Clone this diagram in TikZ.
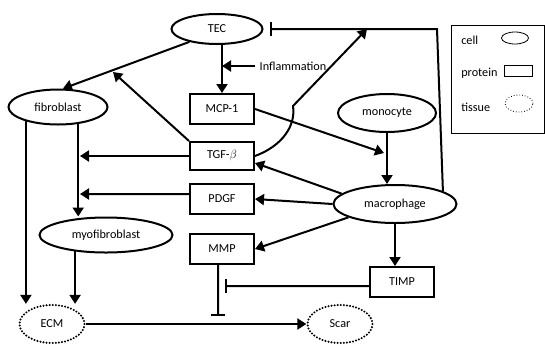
\documentclass[tikz,border=0pt]{standalone}
\usepackage{fontspec}
\setmainfont{Carlito}
\usetikzlibrary{arrows.meta,shapes,positioning}

\begin{document}
\begin{tikzpicture}[x=1bp,y=-1bp,->,>={Triangle[length=9bp,width=11bp]},line width=2bp,
                  font=\fontsize{12.2bp}{14bp}\selectfont,
                  cell node/.style={ellipse,draw,inner sep=0pt},
                  protein node/.style={rectangle,draw,minimum width=64bp,minimum height=30bp,inner sep=0pt},
                  tissue node/.style={ellipse,draw,dash pattern=on 0bp off 3.1bp,line cap=round,line width=2.3bp,
                                      minimum width=65bp,minimum height=38bp,inner sep=0pt},
                  inhib/.style={-{Bar[width=14bp]}},
                  key node/.style={draw,line width=0.8bp,inner sep=0pt}]

    \useasboundingbox (0,0) rectangle (545,345);

    \node[cell node,minimum width=91bp,minimum height=30bp] (1) at (217,29) {TEC};
    \node[cell node,minimum width=99bp,minimum height=35bp] (2) at (58,107) {fibroblast};
    \node[protein node] (3) at (222,109) {MCP-1};
    \node[protein node,minimum height=28bp] (4) at (222,156) {TGF-$\beta$};
    \node[cell node,minimum width=98bp,minimum height=38bp] (5) at (387,113) {monocyte};
    \node[cell node,minimum width=123bp,minimum height=38bp] (6) at (395,204) {macrophage};
    \node[protein node] (7) at (222,199) {PDGF};
    \node[protein node] (8) at (222,249) {MMP};
    \node[protein node] (9) at (402,282) {TIMP};
    \node[cell node,minimum width=133bp,minimum height=35bp] (10) at (106,235) {myofibroblast};
    \node[tissue node] (11) at (52,324) {ECM};
    \node[tissue node] (12) at (340,324) {Scar};
    \node (13) at (293,66) {Inflammation};

    % free ends
    \coordinate (14) at (437,29);
    \coordinate (15) at (113,72);
    \coordinate (16) at (80,156);
    \coordinate (17) at (80,194);
    \coordinate (18) at (384,153);
    \coordinate (19) at (367,29);
    \coordinate (20) at (225,286);
    \coordinate (21) at (218,316);

    \draw (1.205) -- (2.75);
    \draw (1.south -| 3.north) -- (3.north);
    \draw (13.west) -- (13.west -| 3.north);
    \draw (3.east) -- (18);
    \draw (4.north west) -- (15);
    \draw (4.west) -- (16);
    \draw (4.east) .. controls (282,146) and (296,126) .. (293,106) -- (19);
    \draw ([yshift=5bp]7.west) -- (17);
    \draw (5.south) -- (5.south |- 6.north);
    \draw (6.169) -- ([yshift=-7bp]4.east);
    \draw (6.west) -- (7.east);
    \draw (6.196) -- (8.east);
    \draw (6.south) -- (6.south |- 9.north);
    \draw[inhib] ([yshift=-4bp]9.west) -- (20);
    \draw[inhib] ([xshift=-4bp]8.south) -- (21);
    \draw[inhib] (6.15) -- (14) -- ([xshift=6bp]1.east);
    \draw (2.204) -- (2.204 |- 11.north);
    \draw (2.320) -- (2.320 |- 10.north);
    \draw (10.208) -- (10.208 |- 11.north);
    \draw (11) -- (12);

    % legend
    \node[draw,line width=1bp,minimum width=93bp,minimum height=108bp] (l0) at (497.5,79) {};
    \node[anchor=west] (l1) at (457,40) {cell};
    \node[anchor=west] (l2) at (457,73) {protein};
    \node[anchor=west] (l3) at (457,107) {tissue};
    \node[key node,ellipse,minimum width=27bp,minimum height=12bp] (l4) at (515,38) {};
    \node[key node,minimum width=28bp,minimum height=11bp] (l5) at (518,70.5) {};
    \node[key node,ellipse,dotted,minimum width=28bp,minimum height=17bp] (l6) at (519,103.5) {};
\end{tikzpicture}
\end{document}
